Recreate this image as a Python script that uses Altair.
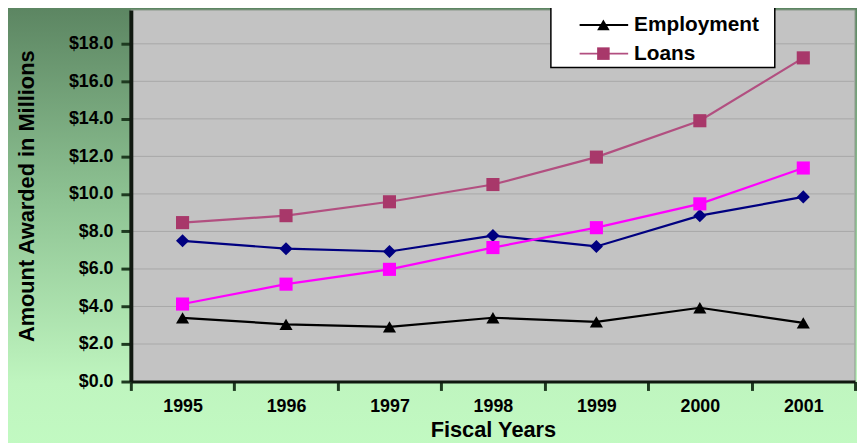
import altair as alt
import pandas as pd

years = ["1995", "1996", "1997", "1998", "1999", "2000", "2001"]
series = ["Grants", "Scholarships", "Employment", "Loans"]
grants = [7.5, 7.08, 6.93, 7.78, 7.2, 8.84, 9.84]
scholarships = [4.13, 5.19, 5.98, 7.14, 8.2, 9.47, 11.38]
employment = [3.39, 3.05, 2.91, 3.4, 3.18, 3.93, 3.13]
loans = [8.47, 8.84, 9.58, 10.5, 11.96, 13.9, 17.25]
y_ticks = [0, 2, 4, 6, 8, 10, 12, 14, 16, 18]

line_colors = ["#000080", "#ff00ff", "#000000", "#b24f80"]
marker_colors = ["#000080", "#ff00ff", "#000000", "#a8386a"]
shapes = ["diamond", "square", "triangle-up", "square"]

rows = []
for name, vals in zip(series, [grants, scholarships, employment, loans]):
    for yr, v in zip(years, vals):
        rows.append({"year": yr, "series": name, "value": v})
df = pd.DataFrame(rows)
grid_df = pd.DataFrame({"value": y_ticks[1:]})
legend_df = pd.DataFrame({"series": series})
one = pd.DataFrame({"a": [0]})

W, H = 731, 375
FONT = "Liberation Sans, Arial, sans-serif"

stroke_enc = alt.Stroke("series:N", scale=alt.Scale(domain=series, range=line_colors), legend=None)
fill_enc = alt.Fill("series:N", scale=alt.Scale(domain=series, range=marker_colors), legend=None)
shape_enc = alt.Shape("series:N", scale=alt.Scale(domain=series, range=shapes), legend=None)

yscale = alt.Scale(domain=[0, 19.8], nice=False, zero=True)

x_axis = alt.Axis(
    title="Fiscal Years", tickBand="extent", labelAngle=0, grid=False,
    labelFont=FONT, labelFontSize=18, labelFontWeight="bold", labelColor="black",
    labelPadding=7, tickSize=9, tickWidth=3, tickColor="#1e3a20",
    domainColor="#101810", domainWidth=3,
    titleFont=FONT, titleFontSize=22, titleFontWeight="bold", titleColor="black",
    titlePadding=4, zindex=1,
)
y_axis = alt.Axis(
    title="Amount Awarded in Millions", values=y_ticks, format="$.1f", grid=False,
    labelFont=FONT, labelFontSize=18, labelFontWeight="bold", labelColor="black",
    labelPadding=8, tickSize=10, tickWidth=3, tickColor="#1e3a20",
    domainColor="#101810", domainWidth=4,
    titleFont=FONT, titleFontSize=22, titleFontWeight="bold", titleColor="black",
    titlePadding=30, zindex=1,
)
x_enc = alt.X("year:O", sort=years,
              scale=alt.Scale(type="band", paddingInner=0, paddingOuter=0), axis=x_axis)
y_enc = alt.Y("value:Q", scale=yscale, axis=y_axis)

bg = alt.Chart(one).mark_rect(
    color=alt.Gradient(
        gradient="linear", x1=0, y1=0, x2=0, y2=1,
        stops=[
            alt.GradientStop(color="#5a8360", offset=0),
            alt.GradientStop(color="#8fc494", offset=0.45),
            alt.GradientStop(color="#bff5bf", offset=0.85),
            alt.GradientStop(color="#c2fac2", offset=1),
        ],
    )
).encode(x=alt.value(-130), x2=alt.value(W + 10), y=alt.value(-10), y2=alt.value(H + 70))

plot_bg = alt.Chart(one).mark_rect(color="#c3c3c3", stroke="#8c9a8c", strokeWidth=1).encode(
    x=alt.value(0), x2=alt.value(W), y=alt.value(0), y2=alt.value(H)
)

grid = alt.Chart(grid_df).mark_rule(color="#a8a8a8", strokeWidth=1).encode(
    x=alt.value(0), x2=alt.value(W), y=y_enc
)

lines = alt.Chart(df).mark_line(strokeWidth=2.2).encode(x=x_enc, y=y_enc, stroke=stroke_enc, detail="series:N")
points = alt.Chart(df).mark_point(filled=True, size=175, opacity=1, strokeWidth=0).encode(
    x=x_enc, y=y_enc, fill=fill_enc, shape=shape_enc
)

main = alt.layer(bg, plot_bg, grid, lines, points)

ly = alt.Y("series:N", scale=alt.Scale(type="point", domain=series, range=[-43, 44], padding=0), axis=None)
box = alt.Chart(one).mark_rect(fill="white", stroke="black", strokeWidth=1.5).encode(
    x=alt.value(424), x2=alt.value(650), y=alt.value(-64), y2=alt.value(58)
)
lrule = alt.Chart(legend_df).mark_rule(strokeWidth=2).encode(
    x=alt.value(453), x2=alt.value(502), y=ly, stroke=stroke_enc
)
lpoint = alt.Chart(legend_df).mark_point(filled=True, size=160, opacity=1, strokeWidth=0).encode(
    x=alt.value(477), y=ly, fill=fill_enc, shape=shape_enc
)
ltext = alt.Chart(legend_df).mark_text(
    align="left", baseline="middle", font=FONT, fontSize=21, fontWeight="bold", color="black"
).encode(x=alt.value(508), y=ly, text="series:N")
legend = alt.layer(box, lrule, lpoint, ltext)

chart = (
    alt.layer(main, legend)
    .resolve_scale(y="independent")
    .properties(
        width=W, height=H,
        autosize=alt.AutoSizeParams(type="none"),
        padding={"left": 124, "top": 0, "right": 2, "bottom": 60},
        background="#c0f8c0",
    )
    .configure_view(stroke=None)
)

chart.save("out.html", embed_options={"renderer": "svg", "actions": False})
